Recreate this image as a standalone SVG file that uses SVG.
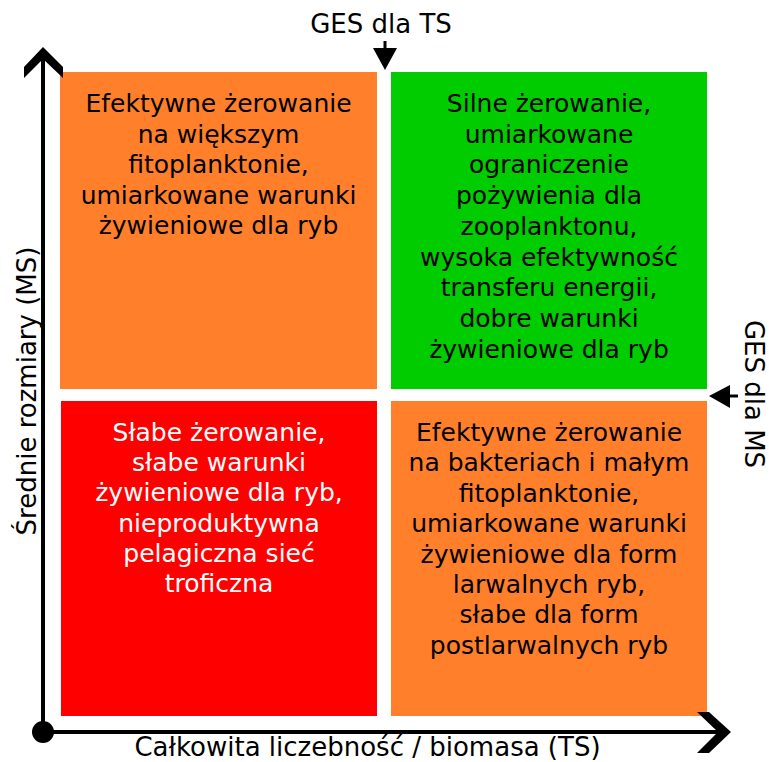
<svg xmlns="http://www.w3.org/2000/svg" width="769" height="762" viewBox="0 0 769 762">
<style>
text{font-family:"DejaVu Sans","Verdana",sans-serif;font-size:25px;fill:#000}
.c{text-anchor:middle}
.w{fill:#fff}
.lab{font-size:26px}
.orange{fill:#FF7F2A}
.green{fill:#00CC00}
.red{fill:#FF0000}
.ax{stroke:#000;stroke-width:4;fill:none}
</style>
<rect width="769" height="762" fill="#fff"/>
<g id="q-top-left">
<rect class="orange" x="60" y="72" width="317" height="317"/>
<text class="c" x="218.5" y="112">Efektywne żerowanie</text>
<text class="c" x="218.5" y="142.5">na większym</text>
<text class="c" x="218.5" y="173">fitoplanktonie,</text>
<text class="c" x="218.5" y="203.5">umiarkowane warunki</text>
<text class="c" x="218.5" y="234">żywieniowe dla ryb</text>
</g>
<g id="q-top-right">
<rect class="green" x="391" y="72" width="316" height="317"/>
<text class="c" x="549" y="112">Silne żerowanie,</text>
<text class="c" x="549" y="142.7">umiarkowane</text>
<text class="c" x="549" y="173.4">ograniczenie</text>
<text class="c" x="549" y="204.1">pożywienia dla</text>
<text class="c" x="549" y="234.8">zooplanktonu,</text>
<text class="c" x="549" y="265.5">wysoka efektywność</text>
<text class="c" x="549" y="296.2">transferu energii,</text>
<text class="c" x="549" y="326.9">dobre warunki</text>
<text class="c" x="549" y="357.6">żywieniowe dla ryb</text>
</g>
<g id="q-bottom-left">
<rect class="red" x="61" y="401" width="316" height="315"/>
<text class="c w" x="219" y="441">Słabe żerowanie,</text>
<text class="c w" x="219" y="471.2">słabe warunki</text>
<text class="c w" x="219" y="501.4">żywieniowe dla ryb,</text>
<text class="c w" x="219" y="531.6">nieproduktywna</text>
<text class="c w" x="219" y="561.8">pelagiczna sieć</text>
<text class="c w" x="219" y="592">troficzna</text>
</g>
<g id="q-bottom-right">
<rect class="orange" x="391" y="401" width="316" height="315"/>
<text class="c" x="549" y="441">Efektywne żerowanie</text>
<text class="c" x="549" y="471.4">na bakteriach i małym</text>
<text class="c" x="549" y="501.8">fitoplanktonie,</text>
<text class="c" x="549" y="532.2">umiarkowane warunki</text>
<text class="c" x="549" y="562.6">żywieniowe dla form</text>
<text class="c" x="549" y="593">larwalnych ryb,</text>
<text class="c" x="549" y="623.4">słabe dla form</text>
<text class="c" x="549" y="653.8">postlarwalnych ryb</text>
</g>
<g id="connectors">
<line class="ax" x1="43" y1="732" x2="43" y2="56"/>
<line class="ax" x1="43" y1="732" x2="722" y2="732"/>
<circle cx="43" cy="732" r="11" fill="#000"/>
<polygon points="43,47 63,67 63,78 43,59 24,78 24,67" fill="#000"/>
<polygon points="731,732 709,712 697,712 718,732 697,753 709,753" fill="#000"/>
<line x1="385" y1="41" x2="385" y2="50" stroke="#000" stroke-width="3"/>
<polygon points="373,48 397,48 385,70" fill="#000"/>
<line x1="738" y1="396" x2="728" y2="396" stroke="#000" stroke-width="3"/>
<polygon points="730,385 730,408 709,396" fill="#000"/>
</g>
<g id="labels">
<text class="c lab" x="381" y="33">GES dla TS</text>
<text class="c lab" x="367.5" y="756">Całkowita liczebność / biomasa (TS)</text>
<text class="c lab" transform="translate(36,391) rotate(-90)">Średnie rozmiary (MS)</text>
<text class="c lab" transform="translate(745,394) rotate(90)">GES dla MS</text>
</g>
</svg>
